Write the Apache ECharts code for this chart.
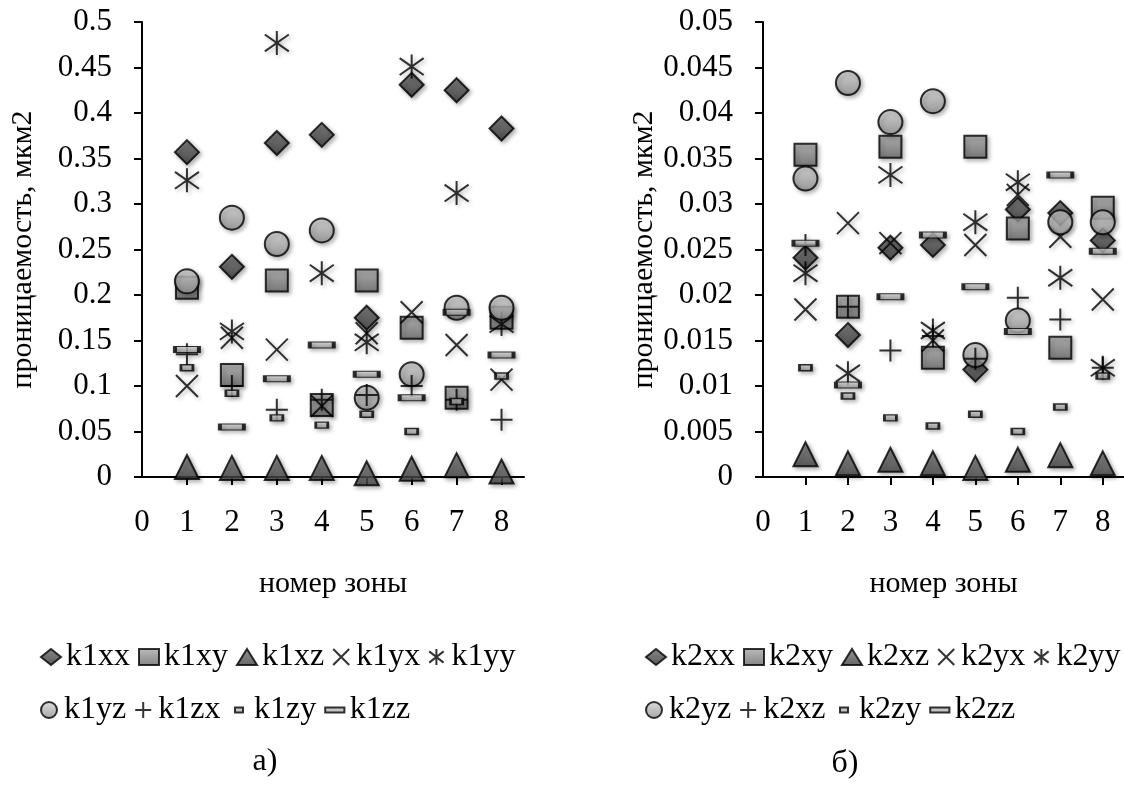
<!DOCTYPE html>
<html>
<head>
<meta charset="utf-8">
<title>Проницаемость по зонам</title>
<script src="https://cdn.jsdelivr.net/npm/echarts@6.0.0/dist/echarts.min.js"></script>
<style>html, body { margin: 0; padding: 0; background: #fff; }</style>
</head>
<body>
<div id="chart" style="width:1124px;height:785px;"></div>
<script type="text/javascript">
// zone numbers and x-axis ticks
var zones = [1, 2, 3, 4, 5, 6, 7, 8];
var zoneLabels = [0, 1, 2, 3, 4, 5, 6, 7, 8];
var zoneTicks = [1, 2, 3, 4, 5, 6, 7, 8];

// а) k1, мкм2
var k1xx = [0.357, 0.231, 0.367, 0.376, 0.175, 0.431, 0.425, 0.383];
var k1xy = [0.208, 0.112, 0.216, 0.079, 0.216, 0.164, 0.087, 0.175];
var k1xz = [0.011, 0.010, 0.010, 0.010, 0.004, 0.009, 0.013, 0.006];
var k1yx = [0.100, 0.153, 0.140, 0.078, 0.158, 0.181, 0.145, 0.107];
var k1yy = [0.326, 0.160, 0.477, 0.224, 0.148, 0.451, 0.312, 0.168];
var k1yz = [0.215, 0.285, 0.256, 0.271, 0.087, 0.113, 0.186, 0.186];
var k1zx = [0.135, 0.100, 0.074, 0.085, 0.090, 0.100, 0.085, 0.063];
var k1zy = [0.120, 0.092, 0.065, 0.057, 0.069, 0.050, 0.083, 0.111];
var k1zz = [0.140, 0.055, 0.108, 0.145, 0.113, 0.087, 0.181, 0.134];

// б) k2, мкм2
var k2xx = [0.0241, 0.0156, 0.0252, 0.0255, 0.0118, 0.0294, 0.0290, 0.0260];
var k2xy = [0.0354, 0.0187, 0.0363, 0.0131, 0.0363, 0.0273, 0.0142, 0.0296];
var k2xz = [0.0025, 0.0015, 0.0019, 0.0015, 0.0010, 0.0019, 0.0024, 0.0015];
var k2yx = [0.0184, 0.0279, 0.0257, 0.0150, 0.0255, 0.0310, 0.0264, 0.0195];
var k2yy = [0.0224, 0.0114, 0.0332, 0.0161, 0.0280, 0.0324, 0.0219, 0.0120];
var k2yz = [0.0328, 0.0433, 0.0390, 0.0413, 0.0134, 0.0172, 0.0280, 0.0280];
var k2zx = [0.0255, 0.0187, 0.0139, 0.0155, 0.0130, 0.0197, 0.0173, 0.0120];
var k2zy = [0.0120, 0.0089, 0.0065, 0.0056, 0.0069, 0.0050, 0.0077, 0.0111];
var k2zz = [0.0257, 0.0101, 0.0198, 0.0266, 0.0209, 0.0160, 0.0332, 0.0248];

var namesA = ['k1xx', 'k1xy', 'k1xz', 'k1yx', 'k1yy', 'k1yz', 'k1zx', 'k1zy', 'k1zz'];
var namesB = ['k2xx', 'k2xy', 'k2xz', 'k2yx', 'k2yy', 'k2yz', 'k2zx', 'k2zy', 'k2zz'];
// legend text as printed (plus marker of б) is labelled k2xz)
var legendTextB = ['k2xx', 'k2xy', 'k2xz', 'k2yx', 'k2yy', 'k2yz', 'k2xz', 'k2zy', 'k2zz'];

var FONT = 'Liberation Serif';

function grad(top, bottom) {
    return new echarts.graphic.LinearGradient(0, 0, 0, 1, [
        { offset: 0, color: top }, { offset: 1, color: bottom }
    ]);
}

var marks = [
    { symbol: 'diamond', size: 24, color: grad('#6a6a6a', '#303030') },
    { symbol: 'rect', size: 22, color: grad('#ababab', '#666666') },
    { symbol: 'triangle', size: 24, color: grad('#767676', '#404040') },
    { symbol: 'path://M0,0L20,20M20,0L0,20', size: 22, line: true },
    { symbol: 'path://M1,3L19,17M19,3L1,17M10,0L10,20', size: 24, line: true },
    { symbol: 'circle', size: 24, color: grad('#d6d6d6', '#8e8e8e') },
    { symbol: 'path://M0,10L20,10M10,0L10,20', size: 22, line: true },
    { symbol: 'rect', size: [12, 6], color: grad('#d8d8d8', '#9a9a9a'), icon: 'path://M0,0M24,20M7,7H17V13H7Z' },
    { symbol: 'rect', size: [24, 6], color: grad('#d8d8d8', '#9a9a9a'), icon: 'path://M0,0M24,20M0,7H24V13H0Z' }
];

function makeSeries(names, values, idx) {
    return names.map(function (name, i) {
        var m = marks[i];
        var style = {
            borderColor: '#000',
            borderWidth: 2,
            shadowBlur: 4,
            shadowOffsetX: 2,
            shadowOffsetY: 2,
            shadowColor: 'rgba(0,0,0,0.35)'
        };
        style.color = m.line ? 'rgba(0,0,0,0)' : m.color;
        return {
            name: name,
            type: 'scatter',
            xAxisIndex: idx,
            yAxisIndex: idx,
            symbol: m.symbol,
            symbolSize: m.size,
            itemStyle: style,
            emphasis: { disabled: true },
            data: zones.map(function (z, j) { return [z, values[i][j]]; })
        };
    });
}

function legendData(names, from, to) {
    return names.slice(from, to).map(function (n, k) {
        var m = marks[from + k];
        return m.icon ? { name: n, icon: m.icon } : { name: n };
    });
}

function legendRow(names, from, to, left, top) {
    return {
        data: legendData(names, from, to),
        left: left,
        top: top,
        width: 560,
        orient: 'horizontal',
        padding: 0,
        itemGap: 8,
        itemWidth: 20,
        itemHeight: 16,
        selectedMode: false,
        formatter: function (name) {
            var i = namesB.indexOf(name);
            return i >= 0 ? legendTextB[i] : name;
        },
        textStyle: { fontFamily: FONT, fontSize: 32, color: '#000' }
    };
}

function xAxis(idx) {
    return {
        type: 'value', gridIndex: idx, min: 0, max: 8.5,
        name: 'номер зоны', nameLocation: 'middle', nameGap: 92,
        nameTextStyle: { fontFamily: FONT, fontSize: 30, color: '#000' },
        axisLine: { show: true, onZero: false, lineStyle: { color: '#000', width: 2 } },
        axisTick: { show: true, customValues: zoneTicks, length: 8, lineStyle: { color: '#000', width: 2 } },
        axisLabel: { customValues: zoneLabels, margin: 30, fontFamily: FONT, fontSize: 31, color: '#000' },
        splitLine: { show: false }
    };
}

function yAxis(idx, max, step) {
    return {
        type: 'value', gridIndex: idx, min: 0, max: max, interval: step,
        name: 'проницаемость, мкм2', nameLocation: 'middle', nameGap: 104,
        nameTextStyle: { fontFamily: FONT, fontSize: 30, color: '#000' },
        axisLine: { show: true, lineStyle: { color: '#000', width: 2 } },
        axisTick: { show: true, length: 8, lineStyle: { color: '#000', width: 2 } },
        axisLabel: { margin: 30, fontFamily: FONT, fontSize: 31, color: '#000' },
        splitLine: { show: false }
    };
}

var chart = echarts.init(document.getElementById('chart'));
var option = {
    animation: false,
    backgroundColor: '#fff',
    title: [
        { text: 'а)', left: 265, top: 746, textAlign: 'center', padding: 0,
          textStyle: { fontFamily: FONT, fontSize: 32, fontWeight: 'normal', color: '#000' } },
        { text: 'б)', left: 845, top: 748, textAlign: 'center', padding: 0,
          textStyle: { fontFamily: FONT, fontSize: 32, fontWeight: 'normal', color: '#000' } }
    ],
    grid: [
        { left: 142, top: 22, width: 382, height: 455 },
        { left: 763, top: 22, width: 367, height: 455 }
    ],
    xAxis: [xAxis(0), xAxis(1)],
    yAxis: [yAxis(0, 0.5, 0.05), yAxis(1, 0.05, 0.005)],
    legend: [
        legendRow(namesA, 0, 5, 40, 641),
        legendRow(namesA, 5, 9, 40, 694),
        legendRow(namesB, 0, 5, 645, 641),
        legendRow(namesB, 5, 9, 645, 694)
    ],
    series: makeSeries(namesA, [k1xx, k1xy, k1xz, k1yx, k1yy, k1yz, k1zx, k1zy, k1zz], 0)
        .concat(makeSeries(namesB, [k2xx, k2xy, k2xz, k2yx, k2yy, k2yz, k2zx, k2zy, k2zz], 1))
};
chart.setOption(option);
</script>
</body>
</html>
